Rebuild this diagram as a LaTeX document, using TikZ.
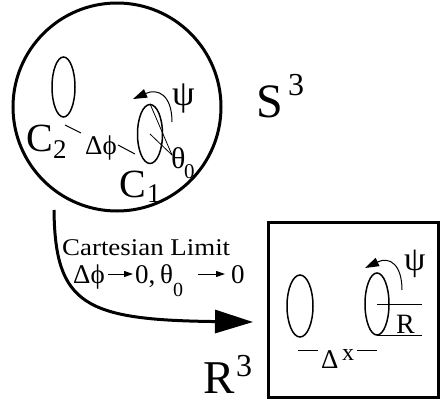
\documentclass[tikz,border=0pt]{standalone}
\usepackage{fontspec}
\usepackage{graphicx}
\setmainfont{Liberation Serif}
\usetikzlibrary{arrows.meta,shapes.geometric}
\newcommand\myfs[1]{\fontsize{#1}{#1}\selectfont}
\begin{document}
\begin{tikzpicture}[x=1pt,y=-1pt,
  txt/.style={inner sep=0pt,anchor=base west},
  loop/.style={draw,ellipse,line width=1.5pt,inner sep=0pt},
  thinline/.style={line width=1pt},
  spin/.style={line width=1pt,-{Triangle[length=14pt,width=9pt]}},
  small/.style={line width=1pt,-{Triangle[length=9pt,width=6pt]}},
]
\useasboundingbox (0,0) rectangle (440,402);
% sphere
\node[circle,draw,line width=3pt,minimum size=208pt,inner sep=0pt] (sphere) at (117,107) {};
\node[loop,minimum width=23pt,minimum height=60pt] (c2) at (63.5,87) {};
\node[loop,minimum width=25pt,minimum height=59pt] (c1) at (150,134) {};
\node[txt,font=\myfs{40}] (c2lab) at (26,151) {C};
\node[txt,font=\myfs{27}] (c2sub) at (53,158) {2};
\node[txt,font=\myfs{40}] (c1lab) at (119,197) {C};
\node[txt,font=\myfs{27}] (c1sub) at (147,202) {1};
\node[txt,font=\myfs{27}] (dphi) at (85,154) {Δϕ};
\node[txt,font=\myfs{30}] (theta) at (171,168) {θ};
\node[txt,font=\myfs{21}] (thetasub) at (184,178) {0};
\node[txt,font=\myfs{36}] (psi1) at (172,105) {ψ};
\coordinate (a1) at (65,125); \coordinate (a2) at (81,133);
\coordinate (b1) at (118,145); \coordinate (b2) at (135,154);
\draw[thinline] (a1) -- (a2);
\draw[thinline] (b1) -- (b2);
\coordinate (t0) at (172,155);
\draw[line width=0.8pt] (c1.center) -- (t0);
\draw[line width=0.8pt] (c1.north) -- (t0);
\coordinate (p1s) at (172,122); \coordinate (p1e) at (133,99);
\draw[spin] (p1s) .. controls (172,95) and (158,88) .. (p1e);
\node[txt,font=\myfs{48}] (S) at (256,117) {S};
\node[txt,font=\myfs{32}] (S3) at (288,95) {3};
% limit arrow
\coordinate (l1) at (54,210); \coordinate (l2) at (253,322);
\draw[line width=3pt,-{Triangle[length=38pt,width=23pt]}] (l1) .. controls (55,305) and (85,320) .. (l2);
\node[txt,font=\myfs{24}] (cart) at (62,255) {\scalebox{1.12}[1]{Cartesian Limit}};
\node[txt,font=\myfs{27}] (dphi2) at (73,283) {Δϕ};
\node[txt,font=\myfs{27}] (zero1) at (135,283) {0,};
\node[txt,font=\myfs{27}] (theta2) at (160,283) {θ};
\node[txt,font=\myfs{20}] (theta2sub) at (173,296) {0};
\node[txt,font=\myfs{27}] (zero2) at (231,283) {0};
\coordinate (r1s) at (108,274); \coordinate (r1e) at (133,274);
\coordinate (r2s) at (198,274); \coordinate (r2e) at (225,274);
\draw[small] (r1s) -- (r1e);
\draw[small] (r2s) -- (r2e);
% flat space
\node[txt,font=\myfs{47},text depth=0pt] (R) at (203,393) {R};
\node[txt,font=\myfs{32}] (R3) at (236,376) {3};
\node[draw,line width=3pt,minimum width=170pt,minimum height=175pt,inner sep=0pt] (box) at (353,309.5) {};
\node[loop,minimum width=26pt,minimum height=62pt] (e1) at (300,306) {};
\node[loop,minimum width=24pt,minimum height=62pt] (e2) at (377,304) {};
\coordinate (h1) at (422,304); \coordinate (h2a) at (377,335); \coordinate (h2) at (422,335);
\draw[thinline] (e2.center) -- (h1);
\draw[thinline] (h2a) -- (h2);
\node[txt,font=\myfs{28}] (Rlab) at (396,333) {R};
\coordinate (p2s) at (402,290); \coordinate (p2e) at (365,268);
\draw[spin] (p2s) .. controls (402,265) and (390,256) .. (p2e);
\node[txt,font=\myfs{34}] (psi2) at (404,270) {ψ};
\node[txt,font=\myfs{27}] (dx) at (321,368) {Δ};
\node[txt,font=\myfs{24}] (xx) at (342,360) {x};
\coordinate (d1) at (298,350); \coordinate (d2) at (318,350);
\coordinate (d3) at (357,350); \coordinate (d4) at (377,350);
\draw[thinline] (d1) -- (d2);
\draw[thinline] (d3) -- (d4);
\end{tikzpicture}
\end{document}
